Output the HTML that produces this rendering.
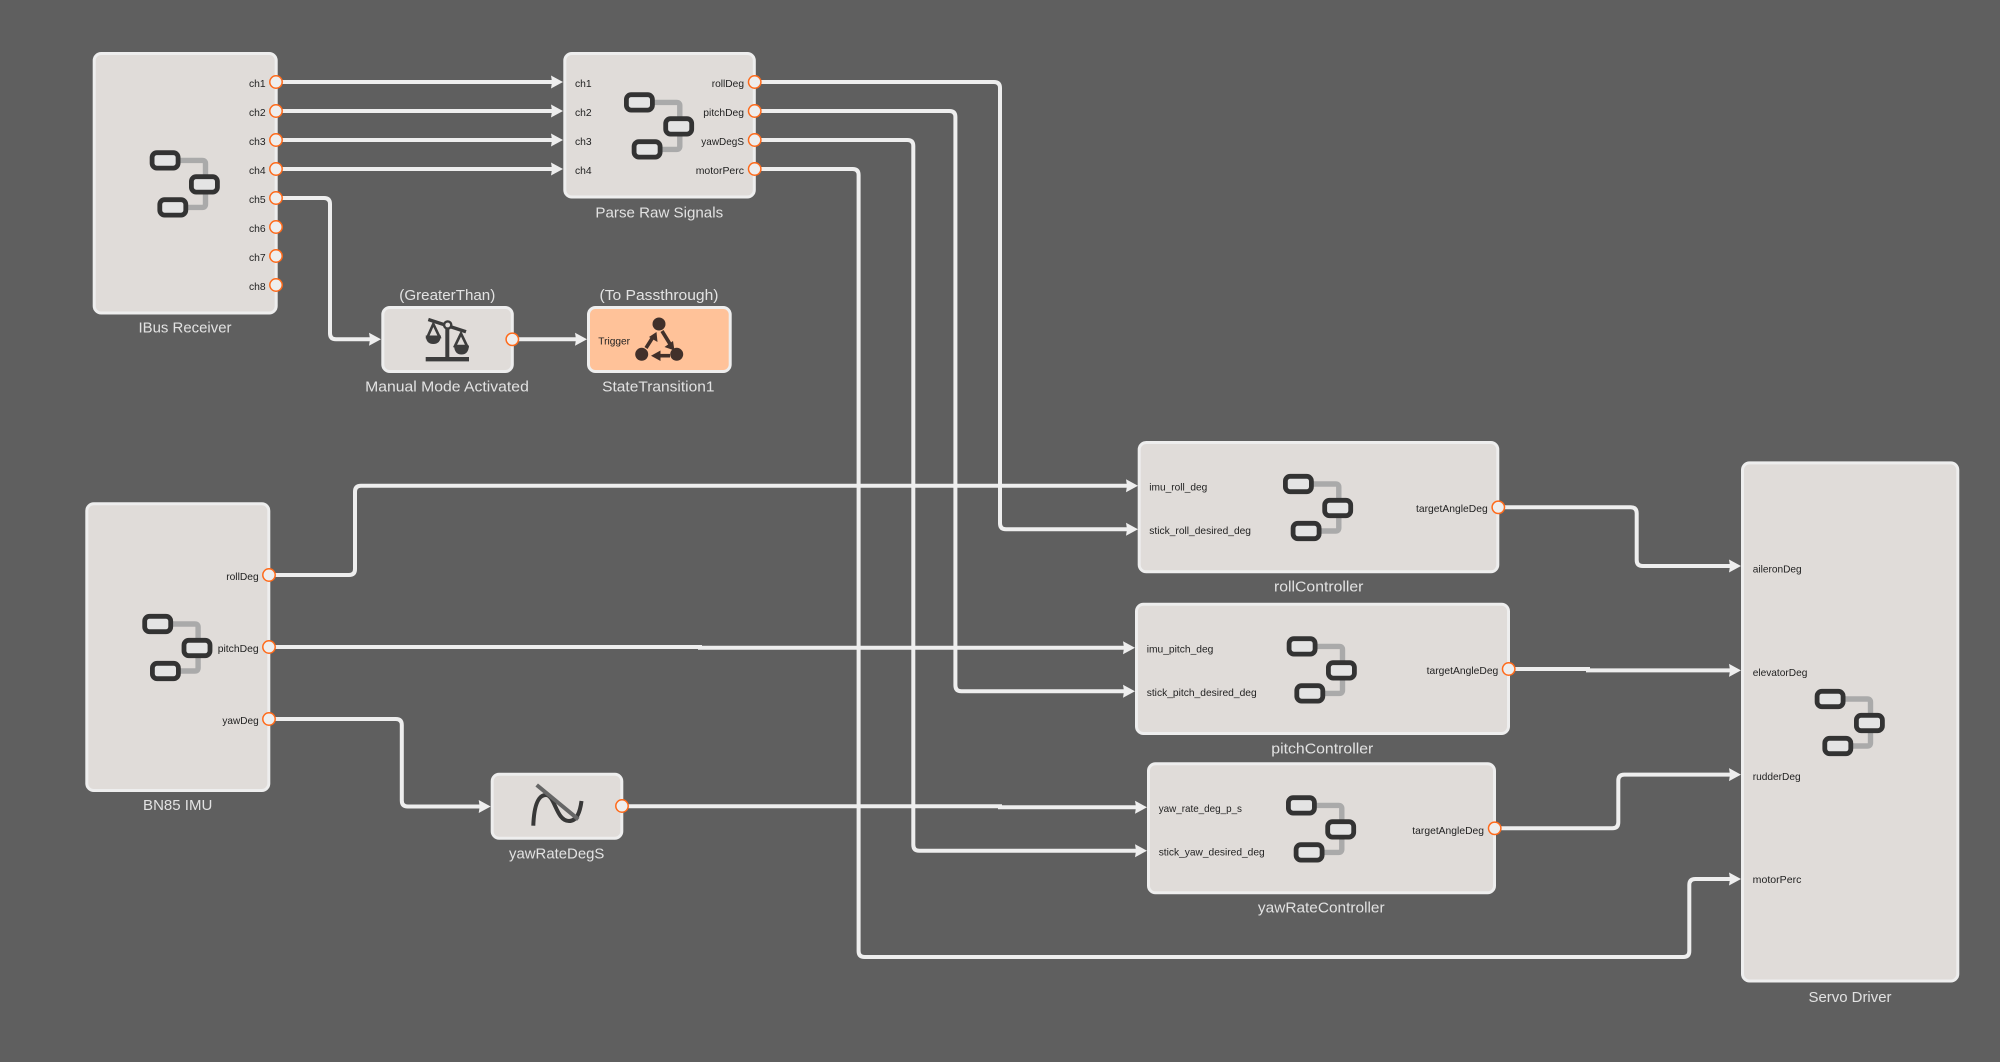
<!DOCTYPE html>
<html><head><meta charset="utf-8"><style>
html,body{margin:0;padding:0;background:#5f5f5f}
svg{display:block;filter:blur(.35px)}
text{font-family:"Liberation Sans",sans-serif}
.t{font-size:15px;fill:#e2e2e2;text-anchor:middle}
.l{font-size:10.5px;fill:#222}
.e{text-anchor:end}
.n{fill:#e0dcd9;stroke:#eeeeee;stroke-width:3}
.c{fill:none;stroke:#eeeeee;stroke-width:4;marker-end:url(#a)}
.p{fill:#eeeeee;stroke:#ff6a1a;stroke-width:1.5}
</style></head><body>
<svg width="2000" height="1062" viewBox="0 0 2000 1062" xmlns="http://www.w3.org/2000/svg">
<defs>
<marker id="a" markerUnits="userSpaceOnUse" markerWidth="14" markerHeight="16" refX="6" refY="8" orient="auto"><path d="M0 1.5L12 8L0 14.5L1 8Z" fill="#eeeeee"/></marker>
<g id="i">
<path d="M20 9.7H52Q55.3 9.7 55.3 13V53.4Q55.3 56.7 52 56.7H25" fill="none" stroke="#aaaaaa" stroke-width="5.4"/>
<rect x="1.9" y="2" width="26" height="15.4" rx="4.8" fill="#e4e4e4" stroke="#333" stroke-width="4.8"/>
<rect x="41.2" y="26" width="26" height="15.4" rx="4.8" fill="#e4e4e4" stroke="#333" stroke-width="4.8"/>
<rect x="9.6" y="49" width="26" height="15.4" rx="4.8" fill="#e4e4e4" stroke="#333" stroke-width="4.8"/>
</g>
</defs>
<rect width="2000" height="1062" fill="#5f5f5f"/>

<!-- connectors -->
<path class="c" d="M276 82H557"/>
<path class="c" d="M276 111H557"/>
<path class="c" d="M276 140H557"/>
<path class="c" d="M276 169H557"/>
<path class="c" d="M276 198H324Q330 198 330 204V333.3Q330 339.3 336 339.3H375"/>
<path class="c" d="M512 339.3H581"/>
<path class="c" d="M755 82H994Q1000 82 1000 88V523.3Q1000 529.3 1006 529.3H1132"/>
<path class="c" d="M755 111H949.4Q955.4 111 955.4 117V685.3Q955.4 691.3 961.4 691.3H1129"/>
<path class="c" d="M755 140H907.3Q913.3 140 913.3 146V844.7Q913.3 850.7 919.3 850.7H1141"/>
<path class="c" d="M755 169H852.6Q858.6 169 858.6 175V951Q858.6 957 864.6 957H1683.3Q1689.3 957 1689.3 951V885Q1689.3 879 1695.3 879H1735"/>
<path class="c" d="M269 575H349Q355 575 355 569V491.7Q355 485.7 361 485.7H1132"/>
<path class="c" d="M269 647H700V647.7H1129"/>
<path class="c" d="M269 719H395.8Q401.8 719 401.8 725V800.5Q401.8 806.5 407.8 806.5H484.7"/>
<path class="c" d="M622 806.3H1000V807.3H1141"/>
<path class="c" d="M1498 507.3H1630.7Q1636.7 507.3 1636.7 513.3V560Q1636.7 566 1642.7 566H1735"/>
<path class="c" d="M1509 669H1588V670.4H1735"/>
<path class="c" d="M1495 828.3H1612.3Q1618.3 828.3 1618.3 822.3V780.6Q1618.3 774.6 1624.3 774.6H1735"/>

<!-- nodes -->
<rect class="n" x="94.2" y="53.5" width="182" height="259.5" rx="7"/>
<rect class="n" x="564.8" y="53.5" width="189.5" height="143.5" rx="7"/>
<rect class="n" x="382.8" y="307.5" width="129.5" height="64" rx="7"/>
<rect x="588.5" y="307.5" width="141.7" height="64" rx="7" fill="#ffc299" stroke="#eeeeee" stroke-width="3"/>
<rect class="n" x="86.8" y="503.8" width="182" height="286.7" rx="7"/>
<rect class="n" x="492.2" y="774.2" width="129.6" height="64" rx="7"/>
<rect class="n" x="1139.2" y="442.5" width="358.6" height="129.3" rx="7"/>
<rect class="n" x="1136.5" y="604.2" width="372" height="129.3" rx="7"/>
<rect class="n" x="1148.5" y="763.8" width="346" height="129" rx="7"/>
<rect class="n" x="1742.5" y="462.9" width="215.3" height="518.1" rx="7"/>

<!-- subsystem icons -->
<use href="#i" x="150.2" y="150.7"/>
<use href="#i" x="624.5" y="92.7"/>
<use href="#i" x="142.8" y="614.3"/>
<use href="#i" x="1283.5" y="474.3"/>
<use href="#i" x="1287.2" y="636.7"/>
<use href="#i" x="1286.5" y="795.7"/>
<use href="#i" x="1815.2" y="689.3"/>

<!-- scale icon -->
<g fill="none" stroke="#3d3d3d">
<path d="M425.7 359.2H469" stroke-width="4.4"/>
<path d="M447.3 328V359" stroke-width="4"/>
<path d="M428.3 319.5L466 331.7" stroke-width="3.4"/>
<circle cx="447.7" cy="325" r="3.6" stroke-width="2.4" fill="#e0dcd9"/>
<path d="M433.3 324L427.5 337H439.5Z" stroke-width="2.6"/>
<path d="M461 333.5L455 346H467Z" stroke-width="2.6"/>
</g>
<path d="M425.7 335.5H441Q440.5 344 433.3 344Q426 344 425.7 335.5Z" fill="#3d3d3d"/>
<path d="M454 345.5H469Q468.5 354.5 461.5 354.5Q454.5 354.5 454 345.5Z" fill="#3d3d3d"/>

<!-- state icon -->
<g fill="#41302a" stroke="none">
<circle cx="659" cy="324" r="6.5"/><circle cx="641.7" cy="354.3" r="6.5"/><circle cx="676.7" cy="354.3" r="6.5"/>
<path d="M662 331L670 344" stroke="#41302a" stroke-width="3.6" fill="none"/>
<polygon points="674.5,350.5 664.5,347 673,341"/>
<path d="M646 348L653 337" stroke="#41302a" stroke-width="3.6" fill="none"/>
<polygon points="656.5,332 657.5,342 649,337"/>
<path d="M670 355.7H658" stroke="#41302a" stroke-width="3.6" fill="none"/>
<polygon points="651,355.7 660.5,350.5 660.5,361"/>
</g>

<!-- curve icon -->
<path d="M533.3 825.7C534 806 538 795 546 795C555 795 556 821 569 821C577 821 580 812 581.5 801" fill="none" stroke="#383838" stroke-width="4"/>
<path d="M536.7 785L578.3 819.3" fill="none" stroke="#666666" stroke-width="4"/>

<!-- ports -->
<g class="p">
<circle cx="276" cy="82" r="6.2"/><circle cx="276" cy="111" r="6.2"/><circle cx="276" cy="140" r="6.2"/><circle cx="276" cy="169" r="6.2"/><circle cx="276" cy="198" r="6.2"/><circle cx="276" cy="227" r="6.2"/><circle cx="276" cy="256" r="6.2"/><circle cx="276" cy="285" r="6.2"/>
<circle cx="754.7" cy="82" r="6.2"/><circle cx="754.7" cy="111" r="6.2"/><circle cx="754.7" cy="140" r="6.2"/><circle cx="754.7" cy="169" r="6.2"/>
<circle cx="512.3" cy="339.3" r="6.2"/>
<circle cx="269" cy="575" r="6.2"/><circle cx="269" cy="647" r="6.2"/><circle cx="269" cy="719" r="6.2"/>
<circle cx="622" cy="806" r="6.2"/>
<circle cx="1498.3" cy="507.3" r="6.2"/><circle cx="1508.7" cy="669" r="6.2"/><circle cx="1494.7" cy="828.3" r="6.2"/>
</g>

<!-- titles -->
<text class="t" x="185" y="332.7" textLength="93" lengthAdjust="spacingAndGlyphs">IBus Receiver</text>
<text class="t" x="659.3" y="217.7" textLength="127.7" lengthAdjust="spacingAndGlyphs">Parse Raw Signals</text>
<text class="t" x="447.3" y="300" textLength="96" lengthAdjust="spacingAndGlyphs">(GreaterThan)</text>
<text class="t" x="447" y="391.7" textLength="163.7" lengthAdjust="spacingAndGlyphs">Manual Mode Activated</text>
<text class="t" x="659" y="300" textLength="119" lengthAdjust="spacingAndGlyphs">(To Passthrough)</text>
<text class="t" x="658.3" y="391.7" textLength="112.3" lengthAdjust="spacingAndGlyphs">StateTransition1</text>
<text class="t" x="177.7" y="810" textLength="69.3" lengthAdjust="spacingAndGlyphs">BN85 IMU</text>
<text class="t" x="556.7" y="858.3" textLength="95.3" lengthAdjust="spacingAndGlyphs">yawRateDegS</text>
<text class="t" x="1318.7" y="591.7" textLength="89.3" lengthAdjust="spacingAndGlyphs">rollController</text>
<text class="t" x="1322.3" y="753.3" textLength="102" lengthAdjust="spacingAndGlyphs">pitchController</text>
<text class="t" x="1321.3" y="912.7" textLength="126.7" lengthAdjust="spacingAndGlyphs">yawRateController</text>
<text class="t" x="1850" y="1001.8" textLength="83" lengthAdjust="spacingAndGlyphs">Servo Driver</text>

<!-- port labels -->
<g>
<text class="l e" x="265.7" y="87" textLength="16.7" lengthAdjust="spacingAndGlyphs">ch1</text>
<text class="l e" x="265.7" y="116" textLength="16.7" lengthAdjust="spacingAndGlyphs">ch2</text>
<text class="l e" x="265.7" y="145" textLength="16.7" lengthAdjust="spacingAndGlyphs">ch3</text>
<text class="l e" x="265.7" y="174" textLength="16.7" lengthAdjust="spacingAndGlyphs">ch4</text>
<text class="l e" x="265.7" y="203" textLength="16.7" lengthAdjust="spacingAndGlyphs">ch5</text>
<text class="l e" x="265.7" y="232" textLength="16.7" lengthAdjust="spacingAndGlyphs">ch6</text>
<text class="l e" x="265.7" y="261" textLength="16.7" lengthAdjust="spacingAndGlyphs">ch7</text>
<text class="l e" x="265.7" y="290" textLength="16.7" lengthAdjust="spacingAndGlyphs">ch8</text>
<text class="l" x="575" y="87" textLength="16.7" lengthAdjust="spacingAndGlyphs">ch1</text>
<text class="l" x="575" y="116" textLength="16.7" lengthAdjust="spacingAndGlyphs">ch2</text>
<text class="l" x="575" y="145" textLength="16.7" lengthAdjust="spacingAndGlyphs">ch3</text>
<text class="l" x="575" y="174" textLength="16.7" lengthAdjust="spacingAndGlyphs">ch4</text>
<text class="l e" x="744" y="87" textLength="32.3" lengthAdjust="spacingAndGlyphs">rollDeg</text>
<text class="l e" x="744" y="116" textLength="40.7" lengthAdjust="spacingAndGlyphs">pitchDeg</text>
<text class="l e" x="744" y="145" textLength="42.7" lengthAdjust="spacingAndGlyphs">yawDegS</text>
<text class="l e" x="744" y="174" textLength="48.3" lengthAdjust="spacingAndGlyphs">motorPerc</text>
<text class="l" x="598.3" y="344.7" textLength="31.7" lengthAdjust="spacingAndGlyphs">Trigger</text>
<text class="l e" x="258.7" y="580" textLength="32.5" lengthAdjust="spacingAndGlyphs">rollDeg</text>
<text class="l e" x="258.7" y="652" textLength="41" lengthAdjust="spacingAndGlyphs">pitchDeg</text>
<text class="l e" x="258.7" y="724" textLength="36.3" lengthAdjust="spacingAndGlyphs">yawDeg</text>
<text class="l" x="1149.3" y="490.5" textLength="58" lengthAdjust="spacingAndGlyphs">imu_roll_deg</text>
<text class="l" x="1149.3" y="533.8" textLength="101.7" lengthAdjust="spacingAndGlyphs">stick_roll_desired_deg</text>
<text class="l e" x="1487.7" y="512" textLength="71.7" lengthAdjust="spacingAndGlyphs">targetAngleDeg</text>
<text class="l" x="1146.7" y="652.7" textLength="66.7" lengthAdjust="spacingAndGlyphs">imu_pitch_deg</text>
<text class="l" x="1146.7" y="696" textLength="110" lengthAdjust="spacingAndGlyphs">stick_pitch_desired_deg</text>
<text class="l e" x="1498.3" y="674" textLength="71.7" lengthAdjust="spacingAndGlyphs">targetAngleDeg</text>
<text class="l" x="1158.7" y="812" textLength="83.3" lengthAdjust="spacingAndGlyphs">yaw_rate_deg_p_s</text>
<text class="l" x="1158.7" y="855.3" textLength="106" lengthAdjust="spacingAndGlyphs">stick_yaw_desired_deg</text>
<text class="l e" x="1484" y="834" textLength="71.7" lengthAdjust="spacingAndGlyphs">targetAngleDeg</text>
<text class="l" x="1752.7" y="572.5" textLength="49" lengthAdjust="spacingAndGlyphs">aileronDeg</text>
<text class="l" x="1752.7" y="676" textLength="54.7" lengthAdjust="spacingAndGlyphs">elevatorDeg</text>
<text class="l" x="1752.7" y="780" textLength="48" lengthAdjust="spacingAndGlyphs">rudderDeg</text>
<text class="l" x="1752.7" y="883" textLength="48.7" lengthAdjust="spacingAndGlyphs">motorPerc</text>
</g>
</svg>
</body></html>
